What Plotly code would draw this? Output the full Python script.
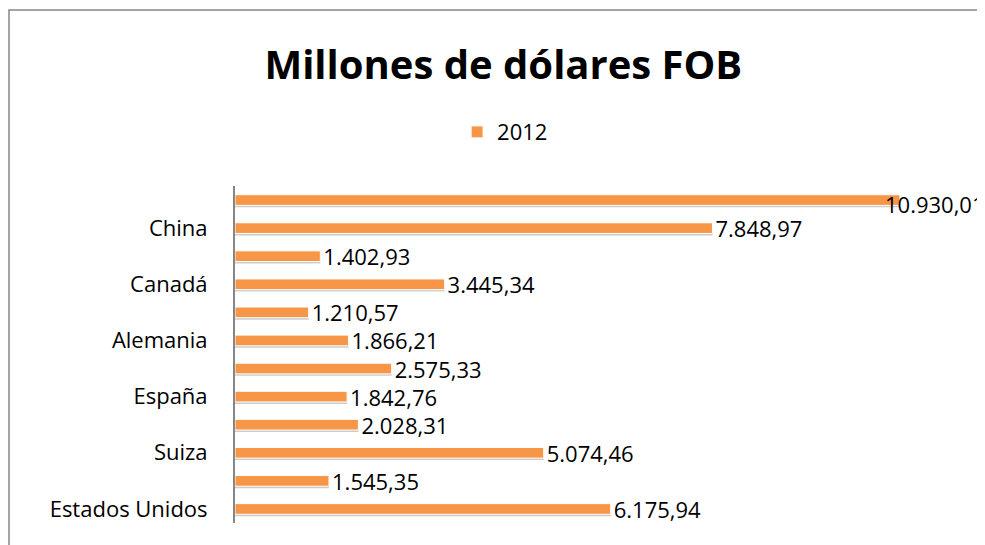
import plotly.graph_objects as go

# Data (bottom to top)
positions = list(range(12))
values = [6175.94, 1545.35, 5074.46, 2028.31, 1842.76, 2575.33,
          1866.21, 1210.57, 3445.34, 1402.93, 7848.97, 10930.01]
tick_positions = [0, 2, 4, 6, 8, 10]
tick_labels = ["Estados Unidos", "Suiza", "España", "Alemania", "Canadá", "China"]
series_name = "2012"


def fmt(v):
    s = f"{v:,.2f}"
    return s.replace(",", "X").replace(".", ",").replace("X", ".")


vmax = max(values)
labels = [fmt(v) if v != vmax else "" for v in values]

FONT = "Open Sans"
ORANGE = "#F79646"
GRAY = "#868686"

# page body has an 8px margin: figure is laid out in local coordinates
W, H = 977, 537
L, R, T, B = 227, 20, 178, 22
PW, PH = W - L - R, H - T - B

fig = go.Figure()
# soft drop shadow (below the bar)
fig.add_trace(go.Bar(
    x=values, y=positions, orientation="h",
    marker=dict(color="rgba(110,110,110,0.35)", line=dict(width=0)),
    width=0.44, offset=-0.26,
    hoverinfo="skip", showlegend=False,
))
fig.add_trace(go.Bar(
    x=values, y=positions, orientation="h", name=series_name,
    marker=dict(color=ORANGE, line=dict(color="white", width=1)),
    width=0.38, offset=-0.19,
    text=labels, textposition="outside", constraintext="none",
    textfont=dict(family=FONT, size=22, color="black"),
    cliponaxis=False, hoverinfo="x",
))

# label of the longest bar overlaps its end, as in the original
imax = values.index(vmax)
fig.add_annotation(x=vmax, y=positions[imax], text=fmt(vmax), showarrow=False,
                   xanchor="left", xshift=-17, yshift=-4,
                   font=dict(family=FONT, size=22, color="black"))

fig.update_layout(
    width=W, height=H,
    margin=dict(l=L, r=R, t=T, b=B),
    paper_bgcolor="white", plot_bgcolor="white",
    barmode="overlay",
    title=dict(text="<b>Millones de dólares FOB</b>", x=0.507, xanchor="center",
               y=0.894, yanchor="middle",
               font=dict(family=FONT, size=40, color="black")),
    legend=dict(orientation="h", x=0.37, xanchor="center", y=1.16, yanchor="middle",
                font=dict(family=FONT, size=22, color="black"),
                itemwidth=30),
    xaxis=dict(range=[0, 12000], visible=False, fixedrange=True),
    yaxis=dict(range=[-0.5, 11.5], tickmode="array", tickvals=tick_positions,
               ticktext=tick_labels, showline=True, linecolor=GRAY, linewidth=2,
               ticks="", showgrid=False, zeroline=False,
               tickfont=dict(family=FONT, size=22, color="black"), ticklabelstandoff=21),
    shapes=[dict(type="rect", xref="paper", yref="paper",
                 x0=(1 - L) / PW, x1=1.1, y0=-0.2, y1=(H - B - 2) / PH,
                 line=dict(color=GRAY, width=1.5), fillcolor="rgba(0,0,0,0)",
                 layer="below")],
)

fig.write_html("out.html")
